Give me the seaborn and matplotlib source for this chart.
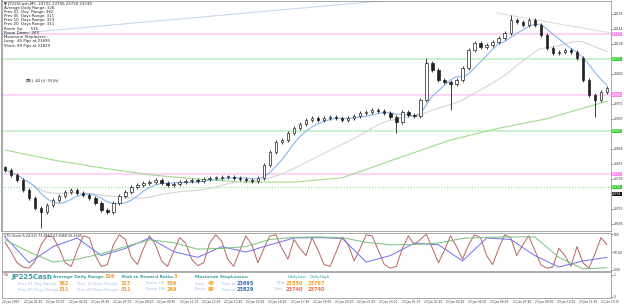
import numpy as np
import pandas as pd
import matplotlib
matplotlib.use("Agg")
import matplotlib.pyplot as plt
import matplotlib.transforms as mtransforms
import seaborn as sns

sns.set_theme(style="white")
plt.rcParams['font.family'] = ['DejaVu Sans', 'Noto Sans CJK SC']

# ---------------- data ----------------
first_open = 23825
closes = [23819, 23808, 23796, 23773, 23755, 23732, 23722, 23738, 23750, 23759,
          23768, 23773, 23766, 23761, 23755, 23743, 23727, 23722, 23743, 23759,
          23768, 23780, 23784, 23789, 23791, 23796, 23789, 23784, 23787, 23791,
          23794, 23796, 23794, 23798, 23801, 23801, 23803, 23803, 23801, 23798,
          23796, 23794, 23801, 23830, 23860, 23883, 23888, 23904, 23916, 23925,
          23934, 23939, 23934, 23939, 23941, 23939, 23934, 23939, 23943, 23950,
          23952, 23957, 23955, 23950, 23941, 23929, 23952, 23946, 23943, 23980,
          24065, 24049, 24026, 24021, 24017, 24026, 24054, 24095, 24111, 24102,
          24107, 24113, 24123, 24134, 24164, 24159, 24153, 24164, 24153, 24130,
          24100, 24088, 24090, 24095, 24090, 24077, 24026, 23992, 23980, 23998,
          24008]
spike_idx = [6, 65, 70, 74, 84, 98]
spike_price = [23686, 23904, 24077, 23957, 24175, 23941]

ma_slow_idx = [0, 8, 16, 24, 32, 40, 48, 56, 64, 74, 82, 90, 94, 100]
ma_slow = [23865, 23842, 23824, 23808, 23798, 23791, 23791, 23801, 23840, 23888,
           23915, 23937, 23953, 23977]

trend_up_x = [-0.5, 66.0]
trend_up_p = [24130, 24212]
trend_dn_x = [81.7, 100.7]
trend_dn_p = [24180, 24134]

pink_levels = [24132, 23992, 23810]
green_levels = [24074, 23909]
green_dotted = [23780]
black_level = [23764]

tick_prices = [23695, 23730, 23799, 23833, 23868, 23937, 23971,
               24040, 24109, 24144, 24178]

stoch_red = [78, 50, 20, 8, 5, 25, 70, 95, 92, 60,
             20, 10, 55, 95, 90, 40, 10, 15, 70, 98,
             85, 35, 15, 60, 95, 70, 25, 10, 50, 90,
             75, 30, 12, 20, 75, 98, 80, 30, 10, 55,
             95, 70, 20, 60, 95, 98, 60, 30, 85, 60,
             40, 90, 55, 15, 10, 50, 92, 70, 25, 60,
             98, 95, 55, 15, 5, 10, 60, 95, 70, 85,
             100, 60, 20, 55, 95, 65, 30, 70, 98, 90,
             40, 15, 60, 98, 90, 40, 70, 95, 55, 15,
             5, 8, 60, 40, 10, 65, 20, 5, 45, 90,
             70]
stoch_idx = [0, 4, 8, 12, 16, 20, 24, 28, 32, 36, 40, 44, 48, 52, 56, 60, 64,
             68, 72, 76, 80, 84, 88, 92, 96, 100]
stoch_blue = [92, 20, 65, 89, 40, 60, 89, 51, 35, 65, 50, 70, 89, 90, 88, 22, 40,
              75, 70, 25, 89, 85, 40, 8, 25, 35]
stoch_green = [84, 50, 22, 30, 45, 65, 84, 76, 58, 60, 65, 85, 91, 92, 90, 77, 70,
               71, 75, 88, 91, 92, 92, 35, 3, 6]

date_labels = ["22 Jan 2020", "22 Jan 01:40", "22 Jan 03:00", "22 Jan 04:20",
               "22 Jan 05:40", "22 Jan 07:00", "22 Jan 08:20", "22 Jan 09:40",
               "22 Jan 11:00", "22 Jan 12:20", "22 Jan 13:40", "22 Jan 15:00",
               "22 Jan 16:20", "22 Jan 17:40", "22 Jan 19:00", "22 Jan 20:20",
               "22 Jan 21:40", "22 Jan 23:00", "23 Jan 01:00", "23 Jan 02:20",
               "23 Jan 03:40", "23 Jan 05:00", "23 Jan 06:20", "23 Jan 07:40",
               "23 Jan 09:00", "23 Jan 10:20", "23 Jan 11:45", "23 Jan 13:05"]

header_lines = ["\u25bc JP225Cash,M5  23722 23740 23720 23740",
                "Average Daily Range: 326",
                "Prev 01  Day  Range: 362",
                "Prev 05  Days Range: 311",
                "Prev 10  Days Range: 323",
                "Prev 20  Days Range: 311",
                "Room Up:      536",
                "Room Down:  269",
                "Maximum Stoplosses :",
                "Long:  45 Pips at 23695",
                "Short: 89 Pips at 23829"]

# ---------------- figure ----------------
W, H = 624, 306
fig = plt.figure(figsize=(W / 100, H / 100), dpi=100)
fig.patch.set_facecolor("white")


def ax_at(x0, y0, x1, y1):
    return fig.add_axes([x0 / W, 1 - y1 / H, (x1 - x0) / W, (y1 - y0) / H])


def ftext(x, y, s, **kw):
    fig.text(x / W, 1 - y / H, s, va="center", **kw)


XL = (-0.5, 100.66)
ax = ax_at(2, 1, 611, 231)
ax_s = ax_at(2, 233, 611, 271)
ax_i = ax_at(2, 272, 611, 298)

n = len(closes)
idx = np.arange(n)
opens = [first_open] + closes[:-1]
df = pd.DataFrame({"idx": idx, "open": opens, "close": closes})
df["ma_fast"] = df["close"].rolling(6, min_periods=1).mean()
df["ma_mid"] = df["close"].rolling(20, min_periods=1).mean()

# levels
for p in pink_levels:
    ax.axhline(p, color="#ffc8f4", lw=1.1, zorder=1)
for p in green_levels:
    ax.axhline(p, color="#bdeebd", lw=1.1, zorder=1)
for p in green_dotted:
    ax.axhline(p, color="#8fdc8f", lw=0.8, ls=(0, (1, 1.5)), zorder=1)

# trendlines
sns.lineplot(x=trend_up_x, y=trend_up_p, ax=ax, color="#c8d8ec", lw=0.8, zorder=2)
sns.lineplot(x=trend_dn_x, y=trend_dn_p, ax=ax, color="#dddddd", lw=0.8, zorder=2)

# moving averages
sns.lineplot(x=ma_slow_idx, y=ma_slow, ax=ax, color="#9edc8c", lw=0.8, zorder=2)
sns.lineplot(data=df, x="idx", y="ma_mid", ax=ax, color="#d4d4d4", lw=0.8, zorder=2)
sns.lineplot(data=df, x="idx", y="ma_fast", ax=ax, color="#86b8ec", lw=0.8, zorder=3)

# candles
lo = np.minimum(df["open"], df["close"])
hi = np.maximum(df["open"], df["close"])
ht = np.maximum(hi - lo, 1.5)
up = df["close"] >= df["open"]
ax.vlines(idx, lo - 4, hi + 4, color="#222222", lw=0.6, zorder=4)
ax.bar(idx[up], ht[up], bottom=lo[up], width=0.4, color="white",
       edgecolor="#222222", linewidth=0.5, zorder=5)
ax.bar(idx[~up], ht[~up], bottom=lo[~up], width=0.4, color="#222222",
       edgecolor="#222222", linewidth=0.5, zorder=5)
for i, p in zip(spike_idx, spike_price):
    ax.vlines(i, min(p, lo[i]), max(p, hi[i]), color="#222222", lw=0.6, zorder=4)

ax.set_xlim(*XL)
ax.set_ylim(23678.7, 24207.7)
ax.yaxis.tick_right()
ax.set_yticks(tick_prices)
ax.set_yticklabels([str(t) for t in tick_prices])
ax.tick_params(axis="y", labelsize=2.2, length=1.2, width=0.4, pad=0.8,
               colors="#333333", right=True)
ax.set_xticks([])
ax.set_xlabel("")
ax.set_ylabel("")
for sp in ax.spines.values():
    sp.set_color("#888888")
    sp.set_linewidth(0.5)
ax.spines["left"].set_linewidth(1.5)
ax.spines["left"].set_color("#aaaaaa")

# price boxes on the right axis
trans = mtransforms.blended_transform_factory(ax.transAxes, ax.transData)
box_groups = [(pink_levels, "#ff88ee"), (green_levels + green_dotted, "#33cc33"),
              (black_level, "#111111")]
for levels, col in box_groups:
    for p in levels:
        ax.text(1.002, p, str(p), transform=trans, fontsize=2.2, color="white",
                va="center", ha="left",
                bbox=dict(boxstyle="square,pad=0.12", fc=col, ec="none"))

# header text
for k, s in enumerate(header_lines):
    ftext(4, 3.5 + k * 4.2, s, fontsize=2.8, color="#222222")
ftext(26, 80, "\u6642() -42 (i) -59 (h)", fontsize=3.0, color="#222222",
      family=["Noto Sans CJK SC", "DejaVu Sans"])

# ---------------- stochastic ----------------
dfs = pd.DataFrame({"idx": idx, "red": stoch_red})
sns.lineplot(data=dfs, x="idx", y="red", ax=ax_s, color="#b5655f", lw=0.7)
sns.lineplot(x=stoch_idx, y=stoch_blue, ax=ax_s, color="#6f6ff2", lw=0.7)
sns.lineplot(x=stoch_idx, y=stoch_green, ax=ax_s, color="#77c277", lw=0.7)
ax_s.set_xlim(*XL)
ax_s.set_ylim(-3, 103)
ax_s.yaxis.tick_right()
ax_s.set_yticks([100, 50, 0])
ax_s.set_yticklabels(["100", "50.00", "0.00"])
ax_s.tick_params(axis="y", labelsize=2.2, length=1.2, width=0.4, pad=0.8,
                 colors="#333333", right=True)
ax_s.set_xticks([])
ax_s.set_xlabel("")
ax_s.set_ylabel("")
for sp in ax_s.spines.values():
    sp.set_color("#888888")
    sp.set_linewidth(0.5)
ax_s.text(0.003, 0.92, "STO Stoch(5,24,52) 73.8167 67.6068 56.4645",
          transform=ax_s.transAxes, fontsize=2.4, color="#333333", va="center")

# ---------------- info panel ----------------
ax_i.set_xlim(0, 1)
ax_i.set_ylim(0, 1)
ax_i.set_xticks([])
ax_i.yaxis.tick_right()
ax_i.set_yticks([0.9, 0.05])
ax_i.set_yticklabels(["1", "0"])
ax_i.tick_params(axis="y", labelsize=2.2, length=1.2, width=0.4, pad=0.8,
                 colors="#333333", right=True)
for sp in ax_i.spines.values():
    sp.set_color("#888888")
    sp.set_linewidth(0.5)

teal = "#3f9e9e"
lb = "#a9bfe0"
orng = "#f2a02a"
red = "#f06a55"
blu = "#3d6fb8"
ftext(3, 275, "T/A", fontsize=2.2, color="#555555")
ftext(11, 277, "JP225Cash", fontsize=5.0, color=teal, fontweight="bold")
ftext(53, 277, "Average Daily Range:", fontsize=3.1, color=teal, fontweight="bold")
ftext(105, 277, "326", fontsize=3.6, color=orng, fontweight="bold")
ftext(122, 277, "Risk to Reward Ratio:", fontsize=3.1, color=teal, fontweight="bold")
ftext(174, 277, "3", fontsize=3.6, color=orng, fontweight="bold")
ftext(195, 277, "Maximum StopLosses:", fontsize=3.1, color=teal, fontweight="bold")
ftext(288, 277, "DailyLow", fontsize=3.1, color=teal)
ftext(310, 277, "DailyHigh", fontsize=3.1, color=teal)

ftext(18, 283.5, "Prev 01 Day Range:", fontsize=2.9, color=lb)
ftext(59, 283.5, "362", fontsize=3.6, color=orng, fontweight="bold")
ftext(77, 283.5, "Prev 10 Days Range:", fontsize=2.9, color=lb)
ftext(121, 283.5, "323", fontsize=3.6, color=orng, fontweight="bold")
ftext(146, 283.5, "Room UP:", fontsize=2.9, color=lb)
ftext(167, 283.5, "536", fontsize=3.6, color=orng, fontweight="bold")
ftext(195, 283.5, "Long:", fontsize=2.9, color=lb)
ftext(208, 283.5, "45", fontsize=3.6, color=orng, fontweight="bold")
ftext(222, 283.5, "Pips at", fontsize=2.9, color=lb)
ftext(237, 283.5, "23695", fontsize=3.6, color=blu, fontweight="bold")
ftext(275, 283.5, "T/Dw", fontsize=2.9, color=lb)
ftext(286, 283.5, "23550", fontsize=3.6, color=orng, fontweight="bold")
ftext(308, 283.5, "23797", fontsize=3.6, color=orng, fontweight="bold")

ftext(18, 289.5, "Prev 05 Days Range:", fontsize=2.9, color=lb)
ftext(59, 289.5, "311", fontsize=3.6, color=orng, fontweight="bold")
ftext(77, 289.5, "Prev 20 Days Range:", fontsize=2.9, color=lb)
ftext(121, 289.5, "311", fontsize=3.6, color=orng, fontweight="bold")
ftext(146, 289.5, "Room DN:", fontsize=2.9, color=lb)
ftext(167, 289.5, "269", fontsize=3.6, color=orng, fontweight="bold")
ftext(195, 289.5, "Short:", fontsize=2.9, color=lb)
ftext(208, 289.5, "89", fontsize=3.6, color=orng, fontweight="bold")
ftext(222, 289.5, "Pips at", fontsize=2.9, color=lb)
ftext(237, 289.5, "23829", fontsize=3.6, color=blu, fontweight="bold")
ftext(275, 289.5, "Prev", fontsize=2.9, color=lb)
ftext(286, 289.5, "23740", fontsize=3.6, color=red, fontweight="bold")
ftext(308, 289.5, "23740", fontsize=3.6, color=red, fontweight="bold")

# date labels
for k, s in enumerate(date_labels):
    ftext(2 + 22.2 * k, 302, s, fontsize=2.05, color="#333333")

fig.savefig("out.png", dpi=100, facecolor="white")
